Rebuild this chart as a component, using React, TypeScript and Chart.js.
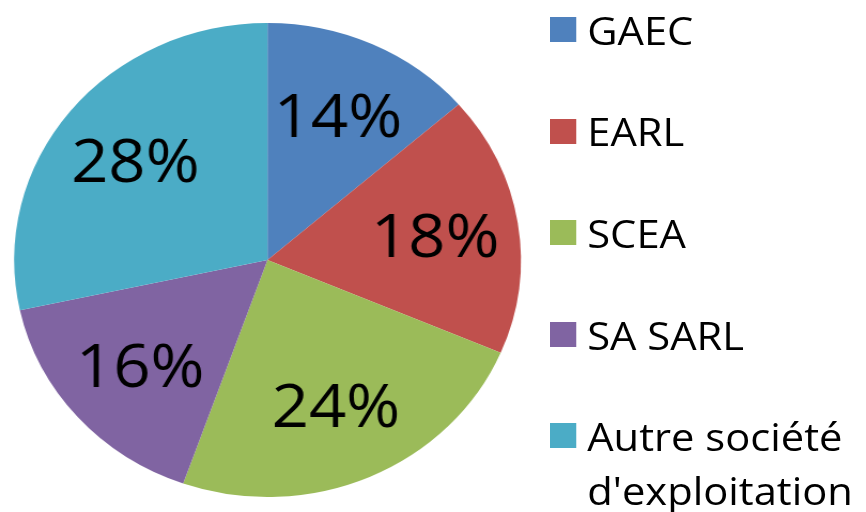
import React, { useEffect, useRef } from 'react';
import { Chart, registerables } from 'chart.js';

Chart.register(...registerables);

// ---- data ----
const categories = ['GAEC', 'EARL', 'SCEA', 'SA SARL', "Autre société d'exploitation"];
const shares = [13.6, 17.8, 24.0, 16.2, 28.4];
const colors = ['#4F81BD', '#C0504D', '#9BBB59', '#8064A2', '#4BACC6'];

// ---- layout / style ----
const W = 810;
const H = 512;
const STRETCH = 866 / W;
const FONT = '"Open Sans", "Noto Sans", sans-serif';
const PCT_SIZE = 61;
const LEG_SIZE = 39;
const LEG_LINE = 53.5;
const LEG_STEP = 101.6;

const pctLabels = {
  id: 'pctLabels',
  afterDatasetsDraw(chart: any) {
    const ctx = chart.ctx;
    const meta = chart.getDatasetMeta(0);
    const data = chart.data.datasets[0].data as number[];
    const total = data.reduce((a, b) => a + b, 0);
    ctx.save();
    ctx.font = `${PCT_SIZE}px ${FONT}`;
    ctx.fillStyle = '#000000';
    ctx.textAlign = 'center';
    ctx.textBaseline = 'alphabetic';
    meta.data.forEach((arc: any, i: number) => {
      const p = arc.getProps(['x', 'y', 'startAngle', 'endAngle', 'outerRadius'], true);
      const mid = (p.startAngle + p.endAngle) / 2;
      const r = p.outerRadius * 0.67;
      const x = p.x + Math.cos(mid) * r;
      const y = p.y + Math.sin(mid) * r + PCT_SIZE * 0.357;
      ctx.fillText(Math.round((data[i] / total) * 100) + '%', x, y);
    });
    ctx.restore();
  },
};

export default function App() {
  const canvasRef = useRef<HTMLCanvasElement | null>(null);

  useEffect(() => {
    if (!canvasRef.current) return;
    const chart = new Chart(canvasRef.current, {
      type: 'pie',
      data: {
        labels: categories,
        datasets: [
          {
            data: shares,
            backgroundColor: colors,
            borderWidth: 0,
          },
        ],
      },
      options: {
        responsive: false,
        animation: false,
        layout: { padding: { left: 13.2, right: 322.8, top: 23, bottom: 15 } },
        plugins: {
          legend: { display: false },
          tooltip: { enabled: false },
        },
      },
      plugins: [pctLabels],
    });
    return () => chart.destroy();
  }, []);

  return (
    <div
      style={{
        position: 'fixed',
        left: 0,
        top: 0,
        width: W,
        height: H,
        background: '#ffffff',
        transform: `scaleX(${STRETCH})`,
        transformOrigin: '0 0',
      }}
    >
      <canvas ref={canvasRef} width={W} height={H} style={{ position: 'absolute', left: 0, top: 0 }} />
      <div
        style={{
          position: 'absolute',
          left: 513.6,
          top: 29.5 - LEG_LINE / 2,
          fontFamily: FONT,
          fontSize: LEG_SIZE,
          lineHeight: `${LEG_LINE}px`,
          color: '#000000',
        }}
      >
        {categories.map((c, i) => (
          <div
            key={c}
            style={{
              display: 'flex',
              alignItems: 'flex-start',
              height: i < categories.length - 1 ? LEG_STEP : 'auto',
            }}
          >
            <div
              style={{
                width: 25.2,
                height: 25,
                marginTop: (LEG_LINE - 25) / 2,
                background: colors[i],
                flex: '0 0 auto',
              }}
            />
            <div style={{ marginLeft: 10.5, width: 300, whiteSpace: 'normal' }}>{c}</div>
          </div>
        ))}
      </div>
    </div>
  );
}
